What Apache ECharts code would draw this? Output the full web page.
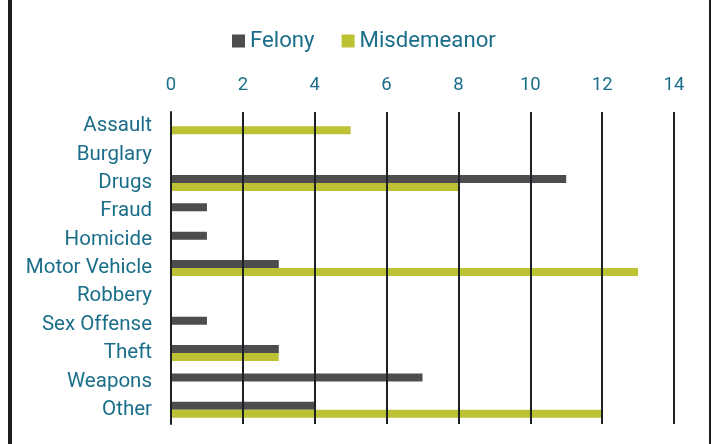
<!DOCTYPE html>
<html>
<head>
<meta charset="utf-8">
<script src="https://cdn.jsdelivr.net/npm/echarts@6/dist/echarts.min.js"></script>
<style>
html, body { margin: 0; padding: 0; background: #fff; }
#chart { width: 711px; height: 444px; }
</style>
</head>
<body>
<div id="chart"></div>
<script>
const categories = ['Assault', 'Burglary', 'Drugs', 'Fraud', 'Homicide', 'Motor Vehicle', 'Robbery', 'Sex Offense', 'Theft', 'Weapons', 'Other'];
const felony = [0, 0, 11, 1, 1, 3, 0, 1, 3, 7, 4];
const misdemeanor = [5, 0, 8, 0, 0, 13, 0, 0, 3, 0, 12];
const xTicks = [0, 14, 2]; // min, max, interval

const textColor = '#1b6e8a';
const chart = echarts.init(document.getElementById('chart'));

chart.setOption({
  animation: false,
  textStyle: { fontFamily: 'Roboto' },
  legend: {
    top: 25,
    left: 227,
    itemWidth: 13,
    itemHeight: 13,
    itemGap: 27,
    icon: 'rect',
    textStyle: { color: textColor, fontSize: 22.2, fontFamily: 'Roboto' },
    data: ['Felony', 'Misdemeanor']
  },
  grid: { left: 171, right: 37, top: 112, bottom: 20 },
  xAxis: {
    type: 'value',
    position: 'top',
    min: xTicks[0],
    max: xTicks[1],
    interval: xTicks[2],
    z: 5,
    axisLine: { show: false },
    axisTick: { show: false },
    axisLabel: { color: textColor, fontSize: 18.5, margin: 17 },
    splitLine: { lineStyle: { color: '#1e2124', width: 2 } }
  },
  yAxis: {
    type: 'category',
    inverse: true,
    data: categories,
    z: 5,
    axisLine: { lineStyle: { color: '#1e2124', width: 2 } },
    axisTick: { show: false },
    axisLabel: { color: textColor, fontSize: 20.5, margin: 19 }
  },
  series: [
    {
      name: 'Felony',
      type: 'bar',
      data: felony,
      barWidth: 8,
      barGap: '0%',
      itemStyle: { color: '#4d4d4f' }
    },
    {
      name: 'Misdemeanor',
      type: 'bar',
      data: misdemeanor,
      barWidth: 8,
      barGap: '0%',
      itemStyle: { color: '#bdc134' }
    }
  ],
  graphic: [
    { type: 'line', shape: { x1: 10, y1: 0, x2: 10, y2: 444 }, style: { stroke: '#1b1e21', lineWidth: 4 } },
    { type: 'line', shape: { x1: 710, y1: 0, x2: 710, y2: 444 }, style: { stroke: '#1b1e21', lineWidth: 2 } }
  ]
});
</script>
</body>
</html>
